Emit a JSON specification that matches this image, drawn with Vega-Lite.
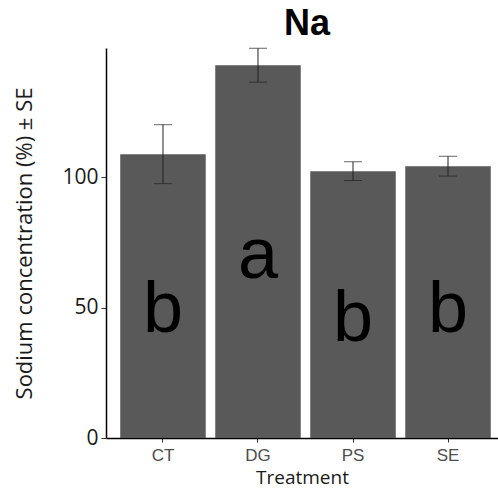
{
  "$schema": "https://vega.github.io/schema/vega-lite/v6.json",
  "autosize": {"type": "none"},
  "padding": {"left": 106, "top": 48, "right": 0, "bottom": 56},
  "width": 392,
  "height": 390,
  "background": "white",
  "title": {
    "text": "Na",
    "font": "Liberation Sans",
    "fontSize": 36,
    "fontWeight": "bold",
    "color": "#000000",
    "anchor": "middle",
    "dx": 5,
    "offset": 5
  },
  "data": {
    "values": [
      {"Treatment": "CT", "mean": 108.8, "lo": 97.5, "hi": 120.1, "letter": "b", "letter_y": 40.6},
      {"Treatment": "DG", "mean": 142.9, "lo": 136.4, "hi": 149.4, "letter": "a", "letter_y": 61.3},
      {"Treatment": "PS", "mean": 102.3, "lo": 98.7, "hi": 105.9, "letter": "b", "letter_y": 37.2},
      {"Treatment": "SE", "mean": 104.2, "lo": 100.4, "hi": 108.0, "letter": "b", "letter_y": 40.6}
    ]
  },
  "encoding": {
    "x": {
      "field": "Treatment",
      "type": "nominal",
      "scale": {"paddingInner": 0.1, "paddingOuter": 0.113, "align": 0.663},
      "axis": {
        "title": "Treatment",
        "titleFont": "Open Sans",
        "titleFontSize": 19,
        "titleFontWeight": "normal",
        "titleColor": "#1a1a1a",
        "titlePadding": 5,
        "labelFont": "Liberation Sans",
        "labelFontSize": 17,
        "labelColor": "#4d4d4d",
        "labelAngle": 0,
        "labelPadding": 5,
        "tickSize": 4,
        "tickColor": "#333333",
        "domainColor": "#000000",
        "domainWidth": 1.5,
        "grid": false
      }
    }
  },
  "layer": [
    {
      "mark": {"type": "bar", "color": "#595959"},
      "encoding": {
        "y": {
          "field": "mean",
          "type": "quantitative",
          "scale": {"domain": [0, 149.5], "nice": false},
          "axis": {
            "title": "Sodium concentration (%) ± SE",
            "titleFont": "Open Sans",
            "titleFontSize": 22,
            "titleFontWeight": "normal",
            "titleColor": "#1a1a1a",
            "titlePadding": 25,
            "values": [0, 50, 100],
            "labelFont": "Open Sans",
            "labelFontSize": 21,
            "labelColor": "#1a1a1a",
            "labelPadding": 3,
            "tickSize": 5,
            "tickColor": "#333333",
            "domainColor": "#000000",
            "domainWidth": 1.5,
            "grid": false
          }
        }
      }
    },
    {
      "mark": {"type": "rule", "color": "#222222", "strokeWidth": 1},
      "encoding": {
        "y": {"field": "lo", "type": "quantitative"},
        "y2": {"field": "hi"}
      }
    },
    {
      "mark": {"type": "tick", "color": "#222222", "thickness": 1, "size": 18},
      "encoding": {"y": {"field": "lo", "type": "quantitative"}}
    },
    {
      "mark": {"type": "tick", "color": "#222222", "thickness": 1, "size": 18},
      "encoding": {"y": {"field": "hi", "type": "quantitative"}}
    },
    {
      "mark": {"type": "text", "font": "Liberation Sans", "fontSize": 72, "color": "#000000", "baseline": "alphabetic", "align": "center"},
      "encoding": {
        "y": {"field": "letter_y", "type": "quantitative"},
        "text": {"field": "letter"}
      }
    }
  ],
  "config": {"view": {"stroke": null}}
}
